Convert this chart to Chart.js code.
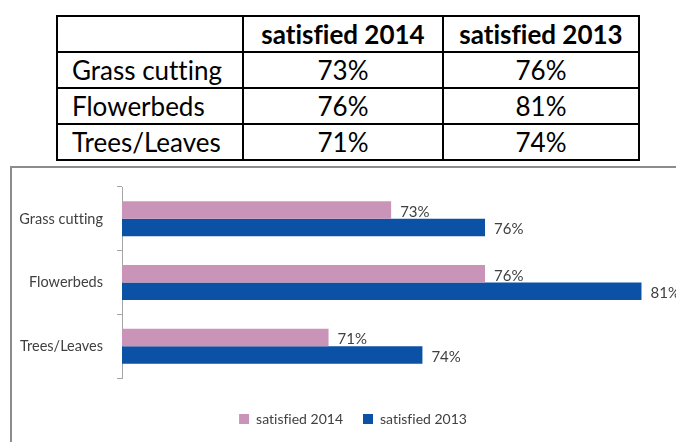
<!DOCTYPE html>
<html>
<head>
<meta charset="utf-8">
<script src="https://cdn.jsdelivr.net/npm/chart.js@4"></script>
<style>
  html, body { margin:0; padding:0; background:#fff; width:676px; height:442px; overflow:hidden; }
  body { position:relative; font-family: Lato, "Open Sans", sans-serif; font-variant-ligatures: none; }
  table { position:absolute; left:56px; top:15px; width:582px; table-layout:fixed; border-collapse:collapse; color:#000; }
  td, th { border:2px solid #000; height:34px; padding:0; font-size:26px; line-height:30px; text-align:center; }
  th { font-weight:bold; }
  td.cat { text-align:left; padding-left:14px; }
  #box { position:absolute; left:10px; top:166px; width:666px; height:276px;
         border-left:2px solid #8c8c8c; border-top:2px solid #8c8c8c; }
  canvas { display:block; }
</style>
</head>
<body>
<table id="tbl"></table>
<div id="box"><canvas id="chart" width="664" height="274"></canvas></div>
<script>
const categories = ['Grass cutting', 'Flowerbeds', 'Trees/Leaves'];
const seriesNames = ['satisfied 2014', 'satisfied 2013'];
const satisfied2014 = [73, 76, 71];
const satisfied2013 = [76, 81, 74];
const colors = ['#c994b8', '#0b52a6'];

// ---------------------------
// Table above the chart
// ---------------------------
function renderTable(){
  const tbl = document.getElementById('tbl');
  let html = '<colgroup><col style="width:186px"><col style="width:200px"><col style="width:196px"></colgroup>';
  html += '<tr><th></th>';
  seriesNames.forEach(s => { html += '<th>' + s + '</th>'; });
  html += '</tr>';
  categories.forEach((c, i) => {
    html += '<tr><td class="cat">' + c + '</td><td>' + satisfied2014[i] + '%</td><td>' + satisfied2013[i] + '%</td></tr>';
  });
  tbl.innerHTML = html;
}
renderTable();

// ---------------------------
// Value labels at bar ends
// ---------------------------
const valueLabels = {
  id: 'valueLabels',
  afterDatasetsDraw(chart){
    const ctx = chart.ctx;
    ctx.save();
    ctx.font = '15px Lato, sans-serif';
    ctx.fillStyle = '#404040';
    ctx.textAlign = 'left';
    ctx.textBaseline = 'middle';
    chart.data.datasets.forEach((ds, di) => {
      chart.getDatasetMeta(di).data.forEach((bar, i) => {
        ctx.fillText(ds.data[i] + '%', bar.x + 9, bar.y + 2);
      });
    });
    ctx.restore();
  }
};

// nudge the legend row to the right of the canvas centre
const legendShift = {
  id: 'legendShift',
  afterLayout(chart){
    if (!chart.legend) return;
    chart.legend.left += 20;
    chart.legend.right += 20;
  }
};

new Chart(document.getElementById('chart'), {
  type: 'bar',
  data: {
    labels: categories,
    datasets: [
      { label: seriesNames[0], data: satisfied2014, backgroundColor: colors[0] },
      { label: seriesNames[1], data: satisfied2013, backgroundColor: colors[1] }
    ]
  },
  options: {
    indexAxis: 'y',
    responsive: false,
    animation: false,
    categoryPercentage: 0.55,
    barPercentage: 1,
    layout: { padding: { top: 19, right: 22, bottom: 6, left: 0 } },
    scales: {
      // hidden value axis; its height only spaces the legend off the plot
      x: {
        min: 64.4, max: 81.4,
        grid: { display: false }, border: { display: false }, ticks: { display: false },
        afterFit(scale){ scale.height = 14; }
      },
      y: {
        afterFit(scale){ scale.width = 110; scale.paddingTop = 0; scale.paddingBottom = 0; },
        border: { display: true, color: '#a6a6a6', width: 1 },
        grid: { drawOnChartArea: false, tickLength: 5, color: '#a6a6a6', offset: true },
        ticks: { color: '#404040', font: { family: 'Lato', size: 14.5 }, padding: 14 }
      }
    },
    plugins: {
      legend: {
        position: 'bottom',
        labels: { boxWidth: 10, boxHeight: 10, padding: 20, color: '#404040', font: { family: 'Lato', size: 14 } }
      },
      tooltip: { enabled: false }
    }
  },
  plugins: [valueLabels, legendShift]
});
</script>
</body>
</html>
